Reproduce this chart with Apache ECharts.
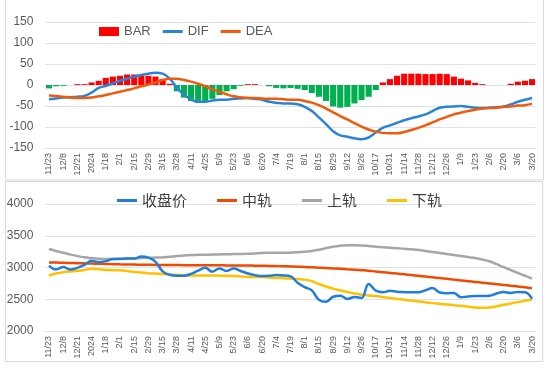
<!DOCTYPE html>
<html><head><meta charset="utf-8">
<script src="https://cdn.jsdelivr.net/npm/echarts@6/dist/echarts.min.js"></script>
<style>html,body{margin:0;padding:0;background:#fff}#c{width:550px;height:372px}</style>
</head><body><div id="c"></div>
<script>
var categories = ['11/23','11/30','12/8','12/14','12/21','12/28','2024','1/11','1/18','1/25','2/1','2/8','2/15','2/22','2/29','3/7','3/15','3/21','3/28','4/3','4/11','4/18','4/25','4/30','5/9','5/16','5/23','5/30','6/6','6/13','6/20','6/27','7/4','7/11','7/19','7/25','8/1','8/8','8/15','8/22','8/29','9/5','9/12','9/19','9/26','10/10','10/17','10/24','10/31','11/7','11/14','11/21','11/28','12/5','12/12','12/19','12/26','1/2','1/9','1/16','1/23','1/27','2/6','2/13','2/20','2/27','3/6','3/13','3/20'];

var barValues = [-8,-3,-2,0,2,2,6,10,17,20,22,25,25,23,22,20,14,3,-15,-30,-38,-42,-38,-33,-24,-15,-10,-2,2,2,0,-3,-7,-8,-7,-9,-12,-19,-28,-38,-51,-54,-52,-44,-36,-28,-12,6,14,22,27,27,27,26,26,27,26,20,15,11,5,2,0,0,0,3,8,10,14];
var difValues = [-34,-32,-30,-29,-28,-26,-18,-7,-2,4,10,15,20,24,27,29,27,15,-6,-23,-34,-40,-40,-37,-35,-35,-33,-32,-31,-33,-35,-40,-42,-44,-44,-46,-52,-62,-77,-93,-110,-120,-123,-127,-129,-125,-113,-102,-96,-90,-84,-79,-75,-70,-62,-54,-52,-51,-50,-52,-54,-55,-54,-53,-51,-46,-40,-35,-31];
var deaValues = [-25,-26,-28,-30,-31,-31,-30,-27,-24,-20,-16,-12,-8,-3,1,6,12,15,15,12,8,3,-3,-10,-16,-22,-27,-29,-31,-31,-32,-33,-33,-34,-35,-35,-38,-42,-48,-56,-65,-74,-82,-91,-99,-106,-111,-114,-115,-115,-112,-107,-102,-96,-89,-82,-76,-70,-66,-62,-59,-56,-55,-54,-52,-51,-49,-48,-45];

var closeValues = [3030,2968,3008,2968,2995,3040,3105,3085,3100,3135,3135,3140,3140,3175,3155,3090,2940,2885,2870,2870,2900,2950,2995,2935,2984,2945,2984,2945,2905,2880,2865,2870,2880,2875,2860,2760,2690,2640,2490,2460,2540,2555,2505,2535,2520,2740,2635,2610,2632,2618,2612,2610,2610,2642,2678,2605,2595,2600,2530,2545,2550,2550,2555,2590,2615,2600,2616,2612,2510];
var midValues = [3080,3077,3074,3071,3068,3065,3062,3059,3056,3053,3050,3048,3046,3044,3042,3041,3040,3039,3038,3037,3037,3036,3036,3035,3034,3033,3032,3031,3030,3029,3027,3025,3023,3020,3016,3012,3008,3003,2998,2992,2986,2980,2973,2966,2958,2950,2937,2926,2915,2904,2893,2881,2869,2857,2845,2833,2821,2809,2797,2785,2773,2761,2749,2737,2725,2713,2701,2688,2672];
var upperValues = [3291,3260,3233,3205,3180,3160,3148,3138,3132,3134,3138,3140,3143,3148,3153,3156,3159,3170,3180,3190,3196,3199,3201,3204,3206,3209,3212,3214,3217,3222,3228,3231,3233,3233,3234,3240,3249,3260,3278,3305,3328,3342,3349,3350,3347,3338,3328,3320,3312,3304,3296,3286,3275,3260,3243,3228,3212,3196,3180,3164,3148,3126,3098,3052,3005,2960,2915,2870,2825];
var lowerValues = [2873,2905,2926,2938,2947,2962,2979,2972,2962,2958,2956,2945,2931,2920,2910,2904,2899,2891,2884,2878,2873,2873,2873,2873,2872,2870,2868,2860,2852,2852,2850,2840,2836,2830,2825,2818,2809,2785,2740,2700,2667,2638,2614,2592,2572,2560,2550,2535,2519,2505,2492,2479,2466,2452,2439,2428,2418,2407,2397,2383,2370,2366,2370,2390,2412,2433,2455,2475,2497];

var topTicks = {min:-150, max:150, interval:50};
var botTicks = {min:2000, max:4000, interval:500};

var gridColor = '#DCE3EB';
var labelColor = '#595959';
var font = 'Liberation Sans, Arial, sans-serif';
var lineIcon = 'path://M0,0 L20,0 L20,3 L0,3 Z';

function xAxisCfg(gi){
  return {
    type:'category', gridIndex:gi, data:categories, boundaryGap:true,
    axisLine:{show:true, onZero:false, lineStyle:{color:gridColor}},
    axisTick:{show:false},
    axisLabel:{interval:1, rotate:90, fontSize:9, color:labelColor, fontFamily:font, margin:5}
  };
}
function yAxisCfg(gi, t){
  return {
    type:'value', gridIndex:gi, min:t.min, max:t.max, interval:t.interval,
    axisLine:{show:false}, axisTick:{show:false},
    axisLabel:{fontSize:12, color:labelColor, fontFamily:font, margin:12, formatter:function(v){return String(v);}},
    splitLine:{lineStyle:{color:gridColor, width:1}}
  };
}

var chart = echarts.init(document.getElementById('c'), null, {renderer:'canvas'});
chart.setOption({
  animation:false,
  backgroundColor:'#fff',
  graphic:[
    {type:'rect', shape:{x:5.5, y:-10, width:538, height:190}, style:{fill:'none', stroke:'#D9D9D9', lineWidth:1}, silent:true, z:-10},
    {type:'rect', shape:{x:5.5, y:181.5, width:537, height:180}, style:{fill:'none', stroke:'#D9D9D9', lineWidth:1}, silent:true, z:-10}
  ],
  grid:[
    {left:45.4, right:14.4, top:22, height:126},
    {left:45.4, right:14.4, top:204, height:127}
  ],
  legend:[
    {left:94, top:20, itemWidth:20, itemHeight:9, itemGap:12, symbolKeepAspect:true,
     textStyle:{fontSize:13, color:labelColor, fontFamily:font},
     data:[{name:'BAR', icon:'rect', itemStyle:{color:'#FF0000'}}, {name:'DIF', icon:lineIcon}, {name:'DEA', icon:lineIcon}]},
    {left:112, top:188, itemWidth:20, itemHeight:9, itemGap:30, symbolKeepAspect:true,
     textStyle:{fontSize:15, color:'#404040', fontFamily:'Noto Sans CJK SC'},
     data:[{name:'收盘价', icon:lineIcon},{name:'中轨', icon:lineIcon},{name:'上轨', icon:lineIcon},{name:'下轨', icon:lineIcon}]}
  ],
  xAxis:[xAxisCfg(0), xAxisCfg(1)],
  yAxis:[yAxisCfg(0, topTicks), yAxisCfg(1, botTicks)],
  series:[
    {name:'BAR', type:'bar', xAxisIndex:0, yAxisIndex:0, data:barValues, barCategoryGap:'14%',
     itemStyle:{color:function(p){return p.value>=0?'#FF0000':'#00B050';}}},
    {name:'DIF', type:'line', xAxisIndex:0, yAxisIndex:0, data:difValues, smooth:0.4, symbol:'none',
     lineStyle:{color:'#2A84D6', width:2.5}, itemStyle:{color:'#2A84D6'}},
    {name:'DEA', type:'line', xAxisIndex:0, yAxisIndex:0, data:deaValues, smooth:0.4, symbol:'none',
     lineStyle:{color:'#F05A0A', width:2.5}, itemStyle:{color:'#F05A0A'}},
    {name:'收盘价', type:'line', xAxisIndex:1, yAxisIndex:1, data:closeValues, smooth:0.4, symbol:'none',
     lineStyle:{color:'#1F7FD8', width:2.5}, itemStyle:{color:'#1F7FD8'}, z:5},
    {name:'中轨', type:'line', xAxisIndex:1, yAxisIndex:1, data:midValues, smooth:0.4, symbol:'none',
     lineStyle:{color:'#F04A00', width:2.5}, itemStyle:{color:'#F04A00'}},
    {name:'上轨', type:'line', xAxisIndex:1, yAxisIndex:1, data:upperValues, smooth:0.4, symbol:'none',
     lineStyle:{color:'#A6A6A6', width:2.5}, itemStyle:{color:'#A6A6A6'}},
    {name:'下轨', type:'line', xAxisIndex:1, yAxisIndex:1, data:lowerValues, smooth:0.4, symbol:'none',
     lineStyle:{color:'#FFC000', width:2.5}, itemStyle:{color:'#FFC000'}}
  ]
});
</script></body></html>
